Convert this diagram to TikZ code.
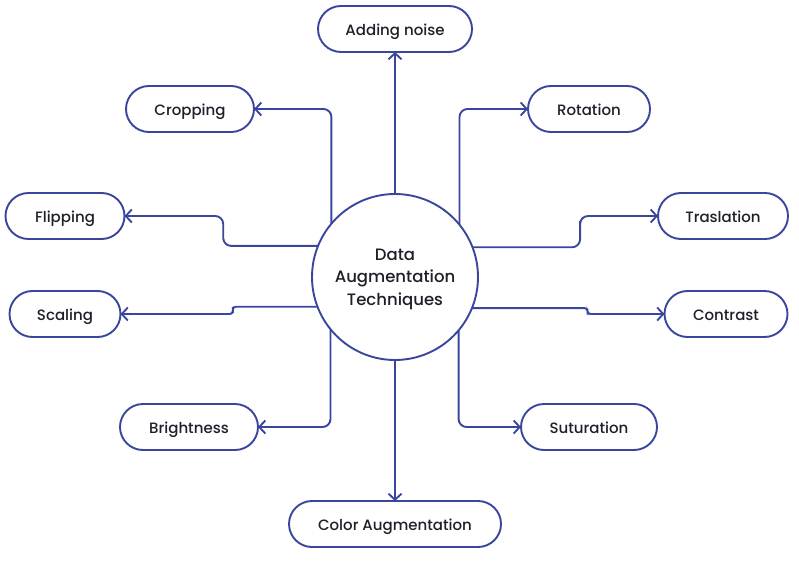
\documentclass[tikz,border=0pt]{standalone}
\usepackage{fontspec}
\setmainfont{Poppins}[UprightFont={* Medium}]
\usetikzlibrary{positioning, shapes.misc, arrows.meta, calc}
\definecolor{lineblue}{RGB}{58,70,158}
\definecolor{inkdark}{RGB}{30,31,40}

\begin{document}
\begin{tikzpicture}[x=1pt,y=-1pt,
  every node/.style={text=inkdark, font=\fontsize{15}{18}\selectfont},
  pill/.style={rounded rectangle, draw=lineblue, line width=1.9pt, fill=white,
    minimum height=46pt, inner sep=0pt, outer sep=0pt,
    text height=15pt, text depth=1.5pt},
  hub/.style={circle, draw=lineblue, line width=1.9pt, fill=white,
    minimum size=166pt, inner sep=0pt, outer sep=0pt, align=center,
    font=\fontsize{16.5}{22.5}\selectfont, text depth=-3pt},
  link/.style={draw=lineblue, line width=1.9pt, rounded corners=8pt,
    -{Straight Barb[length=6pt,width=13pt]}}]
  \useasboundingbox (0,0) rectangle (799,561);

  \node[hub] (hub) at (395,277) {Data\\Augmentation\\Techniques};

  \node[pill, minimum width=154pt] (noise)  at (395,29)  {Adding noise};
  \node[pill, minimum width=128pt] (crop)   at (190,109) {Cropping};
  \node[pill, minimum width=122pt] (rot)    at (589,109) {Rotation};
  \node[pill, minimum width=119pt] (flip)   at (65,216)  {Flipping};
  \node[pill, minimum width=130pt] (trans)  at (723,216) {Traslation};
  \node[pill, minimum width=111pt] (scale)  at (65,314)  {Scaling};
  \node[pill, minimum width=123pt] (contr)  at (726,314) {Contrast};
  \node[pill, minimum width=138pt] (bright) at (189,427) {Brightness};
  \node[pill, minimum width=136pt] (satur)  at (589,427) {Suturation};
  \node[pill, minimum width=212pt] (color)  at (395,524) {Color Augmentation};

  % straight up and down
  \path[link] (hub) -- (noise);
  \path[link] (hub) -- (color);
  % vertical first, then across
  \path[link] (hub.140.4) |- (crop.east);
  \path[link] (hub.39.6)  |- (rot.west);
  \path[link] (hub.219.6) |- (bright.east);
  \path[link] (hub.320.4) |- (satur.west);
  % small steps
  \path[link] (hub.158.8) -| ($(hub.158.8)!0.49!(flip.east)$) |- (flip.east);
  \path[link] (hub.21.2)  -| ($(hub.21.2)!0.58!(trans.west)$) |- (trans.west);
  \path[link, rounded corners=3pt] (hub.201.2) -| ($(hub.201.2)!0.43!(scale.east)$) |- (scale.east);
  \path[link, rounded corners=3pt] (hub.338.8) -| ($(hub.338.8)!0.6!(contr.west)$) |- (contr.west);
\end{tikzpicture}
\end{document}
